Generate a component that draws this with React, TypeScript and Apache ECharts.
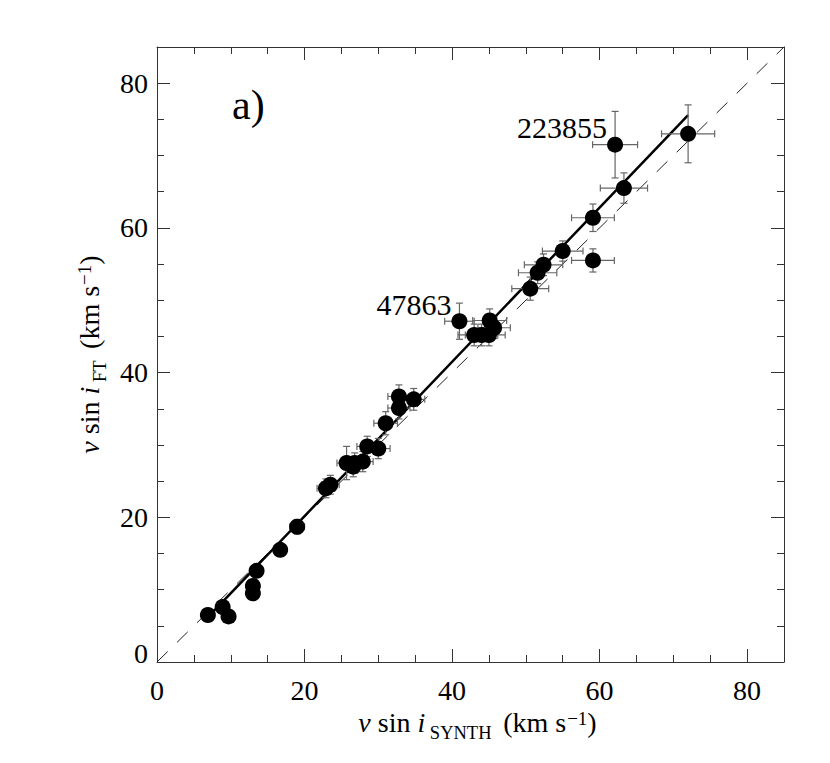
import React, { useEffect, useRef } from 'react';
import * as echarts from 'echarts';

// v sin i from spectral synthesis (x) and from Fourier transform (y), km/s
const synthX = [6.9, 8.9, 9.7, 13.0, 13.0, 13.5, 16.7, 19.0, 22.9, 23.5, 25.7, 26.6, 26.8, 27.9, 28.5, 30.0, 31.0, 32.8, 32.8, 34.8, 41.0, 43.0, 44.0, 45.0, 45.1, 45.7, 50.6, 51.6, 52.4, 55.0, 59.1, 59.1, 62.1, 63.3, 72.0];
const ftY = [6.5, 7.6, 6.3, 10.5, 9.5, 12.6, 15.5, 18.7, 24.0, 24.5, 27.5, 27.0, 27.5, 27.7, 29.8, 29.5, 33.0, 36.7, 35.1, 36.3, 47.1, 45.2, 45.2, 45.2, 47.2, 46.2, 51.6, 53.8, 54.9, 56.8, 55.5, 61.4, 71.5, 65.5, 73.0];
const synthErr = [0.4, 0.5, 0.5, 0.7, 0.7, 0.7, 0.8, 1.0, 1.2, 1.2, 1.3, 1.3, 1.3, 1.4, 1.4, 1.6, 1.6, 1.5, 1.5, 1.5, 2.0, 2.2, 2.2, 2.2, 2.3, 2.2, 2.5, 2.6, 2.6, 2.75, 2.9, 2.9, 3.05, 3.2, 3.6];
const ftErr = [0.4, 0.4, 0.4, 0.6, 0.6, 0.7, 0.8, 1.0, 1.3, 1.3, 2.3, 1.4, 1.4, 1.4, 1.4, 1.4, 1.6, 1.6, 1.5, 1.5, 2.5, 1.5, 1.5, 1.5, 1.6, 1.5, 1.6, 1.5, 1.5, 1.4, 1.6, 1.9, 4.6, 2.1, 4.0];
const starNames = ['', '', '', '', '', '', '', '', '', '', '', '', '', '', '', '', '', '', '', '', '47863', '', '', '', '', '', '', '', '', '', '', '', '223855', '', ''];

// fitted relation and one-to-one line
const fitX = [7, 72];
const fitY = [6.3, 75.6];
const unityX = [0, 85];
const unityY = [0, 85];

const axisMin = 0;
const axisMax = 85;
const majorStep = 20;
const minorStep = 5;
const panelLabel = 'a)';

const FONT = '"Liberation Serif", "Times New Roman", serif';

const richName = {
  it: { fontFamily: FONT, fontSize: 28, fontStyle: 'italic', lineHeight: 30, verticalAlign: 'top', color: '#000' },
  rm: { fontFamily: FONT, fontSize: 28, lineHeight: 30, verticalAlign: 'top', color: '#000' },
  sub: { fontFamily: FONT, fontSize: 18.5, lineHeight: 18.5, verticalAlign: 'top', padding: [15, 0, 0, 0], color: '#000' },
  sup: { fontFamily: FONT, fontSize: 19, lineHeight: 19, verticalAlign: 'top', padding: [0, 0, 0, 1], color: '#000' },
};

export default function App() {
  const ref = useRef<HTMLDivElement>(null);

  useEffect(() => {
    document.body.style.margin = '0';
    if (!ref.current) return;
    const chart = echarts.init(ref.current, undefined, { renderer: 'svg' });

    const axisLineStyle = { color: '#333', width: 1 };
    const majorX = (position: string, labels: boolean, name?: string) => ({
      gridIndex: 0,
      type: 'value',
      min: axisMin,
      max: axisMax,
      interval: majorStep,
      position,
      axisLine: { show: true, onZero: false, lineStyle: axisLineStyle },
      axisTick: { show: true, inside: true, length: 13, lineStyle: axisLineStyle },
      axisLabel: labels
        ? { show: true, showMaxLabel: false, margin: 14, fontFamily: FONT, fontSize: 28, color: '#000' }
        : { show: false },
      splitLine: { show: false },
      name: name || '',
      nameLocation: 'middle',
      nameGap: 37,
      nameTextStyle: { rich: richName, padding: [0, 0, 0, 14] },
    });
    const minorX = (position: string) => ({
      gridIndex: 1,
      type: 'value',
      min: axisMin,
      max: axisMax,
      interval: minorStep,
      position,
      axisLine: { show: false, onZero: false },
      axisTick: { show: true, inside: true, length: 7, lineStyle: axisLineStyle },
      axisLabel: { show: false },
      splitLine: { show: false },
    });
    const majorY = (position: string, labels: boolean, name?: string) => ({
      gridIndex: 0,
      type: 'value',
      min: axisMin,
      max: axisMax,
      interval: majorStep,
      position,
      axisLine: { show: true, onZero: false, lineStyle: axisLineStyle },
      axisTick: { show: true, inside: true, length: 13, lineStyle: axisLineStyle },
      axisLabel: labels
        ? {
            show: true,
            showMaxLabel: false,
            margin: 9,
            fontFamily: FONT,
            fontSize: 28,
            color: '#000',
            formatter: (v: number) => (v === 0 ? '{z|0}' : String(v)),
            rich: { z: { fontFamily: FONT, fontSize: 28, color: '#000', padding: [0, 0, 18, 0] } },
          }
        : { show: false },
      splitLine: { show: false },
      name: name || '',
      nameLocation: 'middle',
      nameGap: 39,
      nameTextStyle: { rich: richName },
    });
    const minorY = (position: string) => ({
      gridIndex: 1,
      type: 'value',
      min: axisMin,
      max: axisMax,
      interval: minorStep,
      position,
      axisLine: { show: false, onZero: false },
      axisTick: { show: true, inside: true, length: 7, lineStyle: axisLineStyle },
      axisLabel: { show: false },
      splitLine: { show: false },
    });

    const errData = synthX.map((x, i) => [x, ftY[i], synthErr[i], ftErr[i]]);
    const pointData = synthX.map((x, i) => {
      const item: any = { value: [x, ftY[i]] };
      if (starNames[i]) {
        item.label = {
          show: true,
          formatter: starNames[i],
          position: 'left',
          distance: 0,
          offset: [0, -17],
          fontFamily: FONT,
          fontSize: 30,
          color: '#000',
        };
      }
      return item;
    });

    const option: any = {
      animation: false,
      backgroundColor: '#ffffff',
      grid: [
        { left: 157, right: 46, top: 47, bottom: 101, show: false },
        { left: 157, right: 46, top: 47, bottom: 101, show: false },
      ],
      xAxis: [
        majorX('bottom', true, '{it|v}{rm| sin }{it|i}{sub| SYNTH }{rm| (km s}{sup|−1}{rm|)}'),
        majorX('top', false),
        minorX('bottom'),
        minorX('top'),
      ],
      yAxis: [
        majorY('left', true, '{it|v}{rm| sin }{it|i}{sub| FT }{rm| (km s}{sup|−1}{rm|)}'),
        majorY('right', false),
        minorY('left'),
        minorY('right'),
      ],
      graphic: [
        {
          type: 'text',
          left: 232,
          top: 84,
          style: { text: panelLabel, fontFamily: FONT, fontSize: 42, fill: '#000' },
        },
      ],
      series: [
        {
          type: 'line',
          xAxisIndex: 0,
          yAxisIndex: 0,
          data: unityX.map((x, i) => [x, unityY[i]]),
          symbol: 'none',
          lineStyle: { color: '#222', width: 1, type: [15, 13] },
          z: 1,
          silent: true,
        },
        {
          type: 'line',
          xAxisIndex: 0,
          yAxisIndex: 0,
          data: fitX.map((x, i) => [x, fitY[i]]),
          symbol: 'none',
          lineStyle: { color: '#000', width: 2.5 },
          z: 2,
          silent: true,
        },
        {
          type: 'custom',
          xAxisIndex: 0,
          yAxisIndex: 0,
          data: errData,
          encode: { x: 0, y: 1 },
          z: 3,
          renderItem: (params: any, api: any) => {
            const x = api.value(0);
            const y = api.value(1);
            const xe = api.value(2);
            const ye = api.value(3);
            const l = api.coord([x - xe, y]);
            const r = api.coord([x + xe, y]);
            const t = api.coord([x, y + ye]);
            const b = api.coord([x, y - ye]);
            const c = 3.5;
            const style = { stroke: '#666', lineWidth: 1.2 };
            return {
              type: 'group',
              children: [
                { type: 'line', shape: { x1: l[0], y1: l[1], x2: r[0], y2: r[1] }, style },
                { type: 'line', shape: { x1: t[0], y1: t[1], x2: b[0], y2: b[1] }, style },
                { type: 'line', shape: { x1: l[0], y1: l[1] - c, x2: l[0], y2: l[1] + c }, style },
                { type: 'line', shape: { x1: r[0], y1: r[1] - c, x2: r[0], y2: r[1] + c }, style },
                { type: 'line', shape: { x1: t[0] - c, y1: t[1], x2: t[0] + c, y2: t[1] }, style },
                { type: 'line', shape: { x1: b[0] - c, y1: b[1], x2: b[0] + c, y2: b[1] }, style },
              ],
            };
          },
        },
        {
          type: 'scatter',
          xAxisIndex: 0,
          yAxisIndex: 0,
          data: pointData,
          symbol: 'circle',
          symbolSize: 16,
          itemStyle: { color: '#000', opacity: 1 },
          z: 4,
        },
      ],
    };

    chart.setOption(option);
    return () => chart.dispose();
  }, []);

  return <div ref={ref} style={{ width: 830, height: 763 }} />;
}
